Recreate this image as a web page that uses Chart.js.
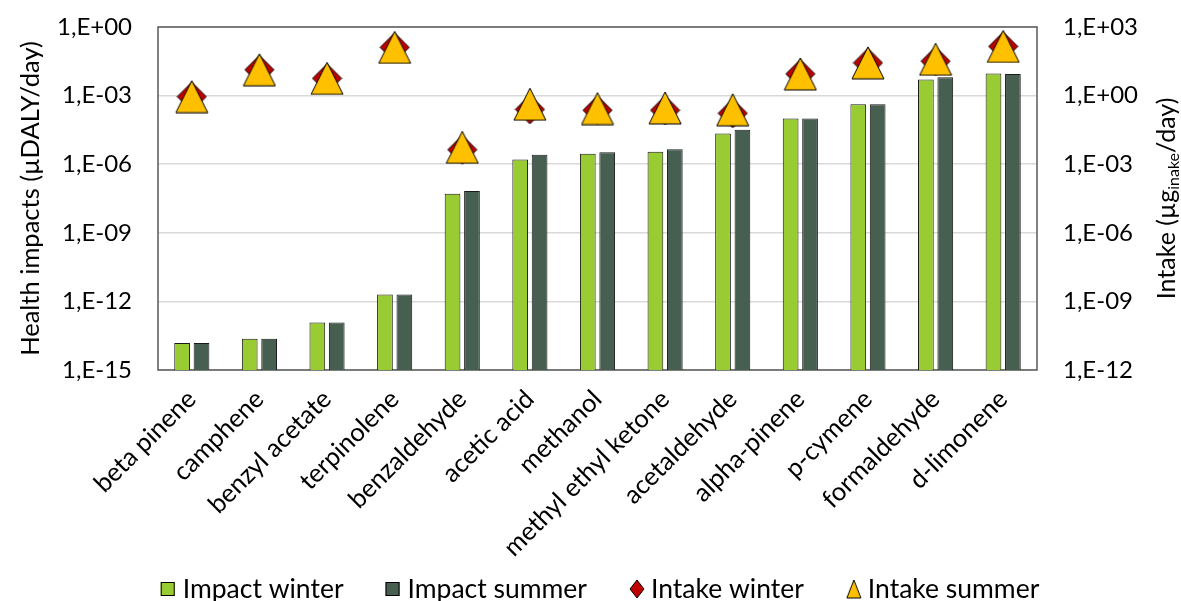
<!DOCTYPE html>
<html><head><meta charset="utf-8">
<script src="https://cdn.jsdelivr.net/npm/chart.js@4.4.1/dist/chart.umd.min.js"></script>
<style>html,body{margin:0;padding:0;background:#fff;overflow:hidden}</style>
</head><body>
<canvas id="c" width="1181" height="601" style="width:1181px;height:601px;display:block"></canvas>
<script>
const categories = ['beta pinene','camphene','benzyl acetate','terpinolene','benzaldehyde','acetic acid','methanol','methyl ethyl ketone','acetaldehyde','alpha-pinene','p-cymene','formaldehyde','d-limonene'];
const impactWinter = [1.5e-14, 2.3e-14, 1.2e-13, 2.0e-12, 5.1e-8, 1.6e-6, 2.9e-6, 3.5e-6, 2.2e-5, 1.0e-4, 4.2e-4, 5.1e-3, 9.3e-3];
const impactSummer = [1.5e-14, 2.3e-14, 1.2e-13, 2.0e-12, 6.8e-8, 2.6e-6, 3.3e-6, 4.5e-6, 3.2e-5, 1.0e-4, 4.2e-4, 6.4e-3, 8.7e-3];
const intakeWinter = [0.9, 13.5, 5.7, 129, 4.3e-3, 0.25, 0.23, 0.23, 0.17, 8.9, 27, 32, 142];
const intakeSummer = [0.9, 13.5, 5.7, 129, 5.5e-3, 0.42, 0.27, 0.29, 0.24, 8.9, 27, 39, 142];
const leftTicks = [1e-15, 1e-12, 1e-9, 1e-6, 1e-3, 1];
const rightTicks = [1e-12, 1e-9, 1e-6, 1e-3, 1, 1e3];
const seriesNames = ['Impact winter', 'Impact summer', 'Intake winter', 'Intake summer'];
const leftTitle = 'Health impacts (µDALY/day)';
const rightTitleParts = ['Intake (µg', 'inake', '/day)'];

const FONT = 'Lato, "Liberation Sans", sans-serif';
const C_WINTER = '#99CC33', C_SUMMER = '#475F50', C_DIAMOND = '#C00000', C_TRI = '#FFC000';

function fmtE(v) {
  const e = Math.round(Math.log10(v));
  return '1,E' + (e < 0 ? '-' : '+') + String(Math.abs(e)).padStart(2, '0');
}
function makeTriangle(w, h) {
  const c = document.createElement('canvas'); c.width = w + 2; c.height = h + 2;
  const g = c.getContext('2d');
  g.beginPath(); g.moveTo((w + 2) / 2, 1); g.lineTo(w + 1, h + 1); g.lineTo(1, h + 1); g.closePath();
  g.fillStyle = C_TRI; g.fill(); g.lineWidth = 1; g.strokeStyle = '#000'; g.stroke();
  return c;
}
function makeDiamond(w, h) {
  const c = document.createElement('canvas'); c.width = w + 2; c.height = h + 2;
  const g = c.getContext('2d'); const cx = (w + 2) / 2, cy = (h + 2) / 2;
  g.beginPath(); g.moveTo(cx, 1); g.lineTo(w + 1, cy); g.lineTo(cx, h + 1); g.lineTo(1, cy); g.closePath();
  g.fillStyle = C_DIAMOND; g.fill(); g.lineWidth = 1; g.strokeStyle = '#000'; g.stroke();
  return c;
}
const triBig = makeTriangle(32, 32), diaBig = makeDiamond(29, 29);

const borderPlugin = {
  id: 'plotBorder',
  beforeDatasetsDraw(chart) {
    const a = chart.chartArea, ctx = chart.ctx;
    ctx.save(); ctx.strokeStyle = '#595959'; ctx.lineWidth = 1.5;
    ctx.strokeRect(a.left, a.top, a.right - a.left, a.bottom - a.top); ctx.restore();
  }
};
const extrasPlugin = {
  id: 'extras',
  afterDraw(chart) {
    const ctx = chart.ctx, a = chart.chartArea;
    // right axis title with subscript
    ctx.save();
    ctx.translate(1167, (a.top + a.bottom) / 2);
    ctx.rotate(-Math.PI / 2);
    ctx.fillStyle = '#000'; ctx.textBaseline = 'middle';
    const fMain = '25px ' + FONT, fSub = '16px ' + FONT;
    ctx.font = fMain; const w1 = ctx.measureText(rightTitleParts[0]).width, w3 = ctx.measureText(rightTitleParts[2]).width;
    ctx.font = fSub; const w2 = ctx.measureText(rightTitleParts[1]).width;
    let x = -(w1 + w2 + w3) / 2;
    ctx.textAlign = 'left';
    ctx.font = fMain; ctx.fillText(rightTitleParts[0], x, 0); x += w1;
    ctx.font = fSub; ctx.fillText(rightTitleParts[1], x, 7); x += w2;
    ctx.font = fMain; ctx.fillText(rightTitleParts[2], x, 0);
    ctx.restore();
    // legend
    ctx.save();
    ctx.font = '26.5px ' + FONT; ctx.textBaseline = 'middle'; ctx.textAlign = 'left'; ctx.fillStyle = '#000';
    const mW = 15, mGap = 7, iGap = 42, yc = 589;
    const widths = seriesNames.map(s => ctx.measureText(s).width);
    const total = widths.reduce((s, w) => s + w + mW + mGap, 0) + iGap * (seriesNames.length - 1);
    let lx = 600 - total / 2;
    seriesNames.forEach((name, i) => {
      ctx.lineWidth = 1; ctx.strokeStyle = '#000';
      if (i < 2) {
        ctx.fillStyle = i === 0 ? C_WINTER : C_SUMMER;
        ctx.fillRect(lx, yc - 7, 14, 14); ctx.strokeRect(lx + 0.5, yc - 6.5, 13, 13);
      } else {
        const img = i === 2 ? makeDiamond(14, 18) : makeTriangle(14, 18);
        ctx.drawImage(img, lx, yc - 10);
      }
      ctx.fillStyle = '#000';
      ctx.fillText(name, lx + mW + mGap, yc);
      lx += mW + mGap + widths[i] + iGap;
    });
    ctx.restore();
  }
};

function noVPad(s) { s.paddingTop = 0; s.paddingBottom = 0; }

new Chart(document.getElementById('c'), {
  data: {
    labels: categories,
    datasets: [
      { type: 'bar', label: seriesNames[0], data: impactWinter, yAxisID: 'y', order: 2,
        backgroundColor: C_WINTER, borderColor: '#1a1a1a', borderWidth: 1,
        categoryPercentage: 0.574, barPercentage: 0.81 },
      { type: 'bar', label: seriesNames[1], data: impactSummer, yAxisID: 'y', order: 2,
        backgroundColor: C_SUMMER, borderColor: '#1a1a1a', borderWidth: 1,
        categoryPercentage: 0.574, barPercentage: 0.81 },
      { type: 'line', label: seriesNames[2], data: intakeWinter, yAxisID: 'y2', order: 1,
        showLine: false, pointStyle: diaBig, pointRadius: 15, pointHoverRadius: 15 },
      { type: 'line', label: seriesNames[3], data: intakeSummer, yAxisID: 'y2', order: 0,
        showLine: false, pointStyle: triBig, pointRadius: 16, pointHoverRadius: 16 }
    ]
  },
  options: {
    responsive: false, devicePixelRatio: 1, animation: false,
    layout: { padding: { top: 27, bottom: 40, left: 0, right: 0 } },
    plugins: { legend: { display: false }, tooltip: { enabled: false } },
    scales: {
      x: {
        type: 'category', offset: true,
        grid: { display: false }, border: { display: false },
        ticks: { autoSkip: false, minRotation: 45, maxRotation: 45, color: '#000', padding: 6,
          font: { family: FONT, size: 25.5 } },
        afterFit(s) { s.height = 191; }
      },
      y: {
        type: 'logarithmic', position: 'left', min: 1e-15, max: 1,
        afterBuildTicks(s) { s.ticks = leftTicks.map(v => ({ value: v })); },
        ticks: { callback: v => fmtE(v), color: '#000', padding: 26, font: { family: FONT, size: 24 } },
        grid: { color: '#d9d9d9', lineWidth: 1.5, drawTicks: false },
        border: { display: false },
        title: { display: true, text: leftTitle, color: '#000', font: { family: FONT, size: 25.5 }, padding: { top: 15, bottom: 0 } },
        afterFit(s) { s.width = 158; noVPad(s); }
      },
      y2: {
        type: 'logarithmic', position: 'right', min: 1e-12, max: 1e3,
        afterBuildTicks(s) { s.ticks = rightTicks.map(v => ({ value: v })); },
        ticks: { callback: v => fmtE(v), color: '#000', padding: 26, font: { family: FONT, size: 24 } },
        grid: { display: false, drawTicks: false },
        border: { display: false },
        afterFit(s) { s.width = 144; noVPad(s); }
      }
    }
  },
  plugins: [borderPlugin, extrasPlugin]
});
</script>
</body></html>
